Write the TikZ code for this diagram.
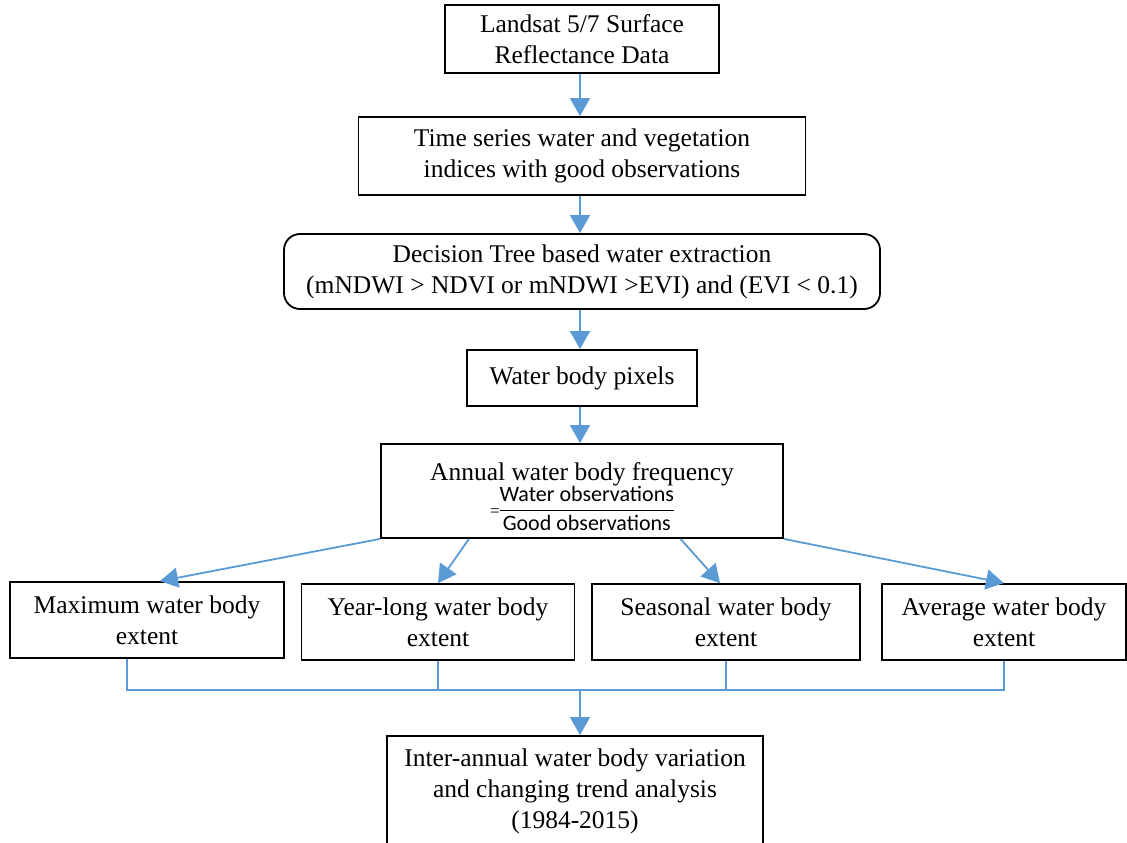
\documentclass[tikz,border=0pt]{standalone}
\usepackage{fontspec}
\setmainfont{Liberation Serif}
\newfontfamily\fracfont{Carlito}
\usetikzlibrary{arrows.meta,calc}
\definecolor{lineblue}{RGB}{91,155,213}
\tikzset{
  box/.style={draw=black, line width=1.8pt, fill=white, align=center, inner sep=0pt,
    font=\fontsize{25.5}{31}\selectfont},
  txt/.style={align=center, inner sep=0pt, font=\fontsize{25.5}{31}\selectfont},
  conn/.style={draw=lineblue, line width=1.8pt},
  arr/.style={conn, -{Triangle[width=20pt,length=18pt]}}
}
\begin{document}
\begin{tikzpicture}[x=1pt,y=-1pt]
\useasboundingbox (0,0) rectangle (1127,843);
\node[box, minimum width=274pt, minimum height=68pt] (land) at (582,39) {Landsat 5/7 Surface\\Reflectance Data};
\node[box, minimum width=447pt, minimum height=78pt] (ts) at (582,156) {Time series water and vegetation\\indices with good observations};
\node[box, rounded corners=16pt, minimum width=596pt, minimum height=75pt] (dt) at (582,271.5) {Decision Tree based water extraction\\(mNDWI {\textgreater} NDVI or mNDWI {\textgreater}EVI) and (EVI {\textless} 0.1)};
\node[box, minimum width=230pt, minimum height=56pt] (wbp) at (582,378) {Water body pixels};
\node[box, minimum width=402pt, minimum height=94pt] (ann) at (582,491) {};
\node[txt] (annt) at (582,500) {Annual water body frequency\\[-2pt]
  {\fontsize{17}{18}\selectfont=}{\fontsize{22}{24}\selectfont\fracfont\renewcommand{\arraystretch}{1.0}\begin{tabular}{@{}c@{}}Water observations\\[1pt]\hline\rule{0pt}{20pt}Good observations\end{tabular}}};
\node[box, minimum width=274pt, minimum height=76pt] (max) at (147,620) {Maximum water body\\extent};
\node[box, minimum width=273pt, minimum height=76pt] (yl) at (438,622) {Year-long water body\\extent};
\node[box, minimum width=268pt, minimum height=76pt] (sea) at (726,622) {Seasonal water body\\extent};
\node[box, minimum width=244pt, minimum height=76pt] (avg) at (1004,622) {Average water body\\extent};
\node[box, minimum width=376pt, minimum height=110pt] (inter) at (575,791) {Inter-annual water body variation\\and changing trend analysis\\(1984-2015)};
\coordinate (j) at (580,690);
\draw[arr] (land.south -| 580,0) -- (ts.north -| 580,0);
\draw[arr] (ts.south -| 580,0) -- (dt.north -| 580,0);
\draw[arr] (dt.south -| 580,0) -- (wbp.north -| 580,0);
\draw[arr] (wbp.south -| 580,0) -- (ann.north -| 580,0);
\draw[arr] (ann.south west) -- ($(max.north)+(13,0)$);
\draw[arr] ($(ann.south west)!0.22!(ann.south east)$) -- (yl.north);
\draw[arr] ($(ann.south west)!0.744!(ann.south east)$) -- ($(sea.north)+(-6,0)$);
\draw[arr] (ann.south east) -- (avg.north);
\draw[conn] ($(max.south)+(-20,0)$) |- (j -| avg.south) -- (avg.south);
\draw[conn] (yl.south) -- (yl.south |- j);
\draw[conn] (sea.south) -- (sea.south |- j);
\draw[arr] (j) -- (inter.north -| j);
\end{tikzpicture}
\end{document}
